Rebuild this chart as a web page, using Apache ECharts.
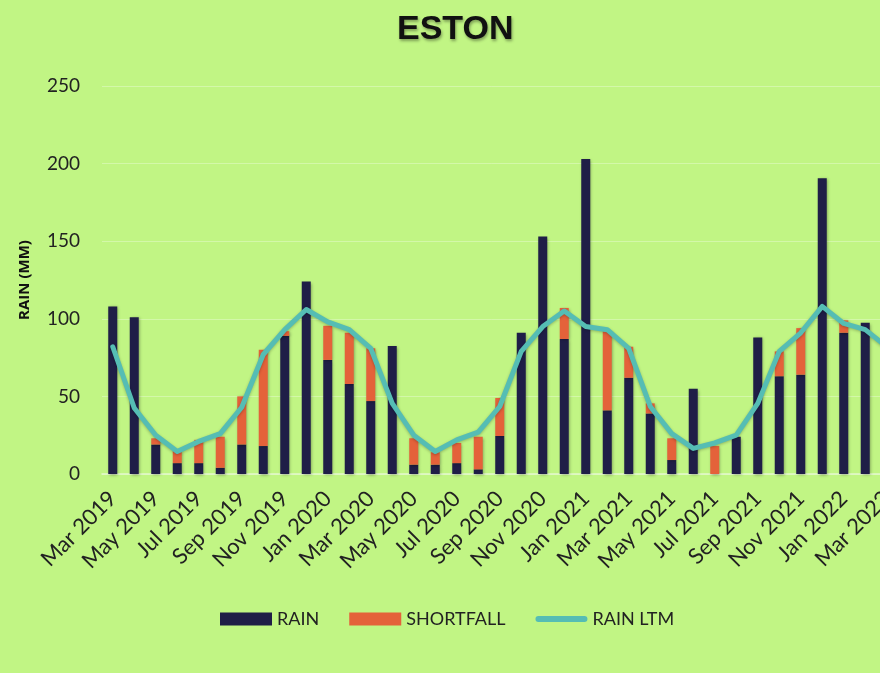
<!DOCTYPE html>
<html>
<head>
<meta charset="utf-8">
<title>ESTON</title>
<script src="https://cdn.jsdelivr.net/npm/echarts@6/dist/echarts.min.js"></script>
<style>
  html,
  body {
    margin: 0;
    padding: 0;
    background: #c1f584;
  }

  #chart {
    width: 880px;
    height: 673px;
  }
</style>
</head>
<body>
<div id="chart"></div>
<script>
const months = [
  "Mar 2019", "Apr 2019", "May 2019", "Jun 2019", "Jul 2019", "Aug 2019",
  "Sep 2019", "Oct 2019", "Nov 2019", "Dec 2019", "Jan 2020", "Feb 2020",
  "Mar 2020", "Apr 2020", "May 2020", "Jun 2020", "Jul 2020", "Aug 2020",
  "Sep 2020", "Oct 2020", "Nov 2020", "Dec 2020", "Jan 2021", "Feb 2021",
  "Mar 2021", "Apr 2021", "May 2021", "Jun 2021", "Jul 2021", "Aug 2021",
  "Sep 2021", "Oct 2021", "Nov 2021", "Dec 2021", "Jan 2022", "Feb 2022",
  "Mar 2022",
];

const rain = [
  108, 101, 19, 7, 7, 4, 19, 18, 89, 124, 73.5, 58,
  47, 82.5, 6, 6, 7, 3, 24.5, 91, 153, 87, 203, 41,
  62, 39, 9, 55, 0, 24, 88, 63, 64, 190.5, 91, 97.5,
  null,
];

const shortfall = [
  0, 0, 4, 8, 15, 20, 31, 62, 3, 0, 22, 33,
  34, 0, 17, 8, 13, 21, 24.5, 0, 0, 20, 0, 51,
  20, 6.5, 14, 0, 18, 0, 0, 16, 30, 0, 8, 0,
  null,
];

const rainLtm = [
  82, 42.5, 25, 14.5, 21, 26, 43, 77, 93, 106, 98, 93,
  81, 45.5, 25, 14.5, 22, 27, 43.5, 79, 95, 105, 95, 93,
  81, 43.5, 26, 16.5, 20, 25, 45.5, 79, 91, 108, 97, 93,
  82,
];

const yTicks = {
  min: 0,
  max: 250,
  interval: 50,
};

const labelFont = "Lato, 'Open Sans', sans-serif";

// thick rounded stroke for the LTM legend entry
const lineIcon = "path://M3,0 L49,0 A3,3 0 0 1 49,6 L3,6 A3,3 0 0 1 3,0 Z";

const chart = echarts.init(
  document.getElementById("chart"),
  null,
  {
    renderer: "canvas",
  },
);

const barShadow = {
  shadowColor: "rgba(0, 0, 0, 0.35)",
  shadowBlur: 3,
  shadowOffsetX: 1,
  shadowOffsetY: 1,
};

chart.setOption({
  animation: false,
  backgroundColor: "#c1f584",
  title: {
    text: "ESTON",
    left: 392,
    top: 8,
    textStyle: {
      fontFamily: "'Liberation Sans', Arial, sans-serif",
      fontWeight: "bold",
      fontSize: 34,
      color: "#111111",
      textShadowColor: "rgba(0, 0, 0, 0.35)",
      textShadowBlur: 3,
      textShadowOffsetX: 1,
      textShadowOffsetY: 2,
    },
  },
  legend: {
    left: 215,
    top: 605,
    itemWidth: 52,
    itemHeight: 13,
    itemGap: 30,
    textStyle: {
      fontFamily: labelFont,
      fontSize: 18,
      color: "#222222",
    },
    data: [
      {
        name: "RAIN",
        icon: "rect",
      },
      {
        name: "SHORTFALL",
        icon: "rect",
      },
      {
        name: "RAIN LTM",
        icon: lineIcon,
        itemStyle: {
          color: "#55bdb4",
        },
      },
    ],
  },
  grid: {
    left: 102,
    top: 86,
    width: 795.5,
    height: 388,
    containLabel: false,
    outerBoundsMode: "none",
  },
  xAxis: {
    type: "category",
    data: months,
    axisTick: {
      show: false,
    },
    axisLine: {
      lineStyle: {
        color: "#e3f7cc",
        width: 1.5,
      },
    },
    axisLabel: {
      interval: 1,
      rotate: 45,
      margin: 21,
      fontFamily: labelFont,
      fontSize: 22,
      color: "#222222",
    },
  },
  yAxis: {
    type: "value",
    ...yTicks,
    name: "RAIN (MM)",
    nameLocation: "middle",
    nameGap: 70,
    nameTextStyle: {
      fontFamily: "'Open Sans', sans-serif",
      fontWeight: "bold",
      fontSize: 15,
      color: "#111111",
    },
    axisLine: {
      show: false,
    },
    axisTick: {
      show: false,
    },
    axisLabel: {
      margin: 22,
      fontFamily: labelFont,
      fontSize: 19,
      color: "#222222",
    },
    splitLine: {
      lineStyle: {
        color: "rgba(255, 255, 255, 0.3)",
        width: 1,
      },
    },
  },
  series: [
    {
      name: "RAIN",
      type: "bar",
      stack: "rain",
      barWidth: 9,
      data: rain,
      itemStyle: {
        color: "#1f1e47",
        ...barShadow,
      },
    },
    {
      name: "SHORTFALL",
      type: "bar",
      stack: "rain",
      barWidth: 9,
      data: shortfall,
      itemStyle: {
        color: "#e4623a",
        ...barShadow,
      },
    },
    {
      name: "RAIN LTM",
      type: "line",
      data: rainLtm,
      showSymbol: false,
      symbol: "none",
      z: 5,
      lineStyle: {
        color: "#55bdb4",
        width: 5,
        cap: "round",
        join: "round",
        shadowColor: "rgba(0, 0, 0, 0.25)",
        shadowBlur: 3,
        shadowOffsetY: 1,
      },
      itemStyle: {
        color: "#55bdb4",
      },
    },
  ],
});
</script>
</body>
</html>
